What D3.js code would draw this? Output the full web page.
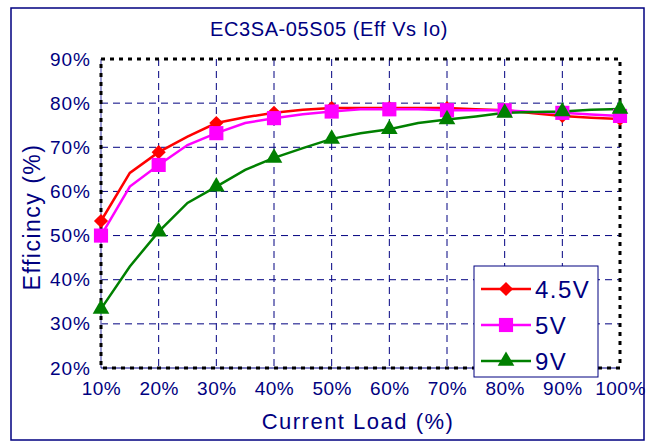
<!DOCTYPE html>
<html>
<head>
<meta charset="utf-8">
<script src="https://cdn.jsdelivr.net/npm/d3@7"></script>
<style>
  body { margin: 0; background: #fff; }
  text { font-family: "Liberation Sans", Arial, sans-serif; fill: #000080; }
</style>
</head>
<body>
<script>
// load points (%) with markers
var loads = [10, 20, 30, 40, 50, 60, 70, 80, 90, 100];
var eff45 = [53.3, 68.9, 75.5, 77.8, 78.9, 78.9, 78.9, 78.4, 77.1, 76.4];
var eff5  = [50.0, 66.0, 73.2, 76.6, 78.1, 78.6, 78.4, 78.4, 77.8, 77.1];
var eff9  = [33.4, 50.9, 61.1, 67.6, 71.9, 74.1, 76.3, 77.8, 78.1, 78.7];

// extra measurements between markers (line only)
var midLoads = [15, 25, 35, 45, 55, 65, 75, 85, 95];
var mid45 = [64.2, 72.4, 76.8, 78.5, 78.9, 78.9, 78.6, 77.7, 76.7];
var mid5  = [61.1, 70.5, 75.5, 77.5, 78.6, 78.6, 78.4, 78.0, 77.4];
var mid9  = [43.0, 57.4, 64.9, 69.8, 73.2, 75.5, 77.0, 78.0, 78.5];

var xTicks = [10, 20, 30, 40, 50, 60, 70, 80, 90, 100];
var yTicks = [20, 30, 40, 50, 60, 70, 80, 90];

var W = 654, H = 445;
var navy = "#000080";

var svg = d3.select("body").append("svg")
    .attr("width", W)
    .attr("height", H);

// outer frame
svg.append("rect")
    .attr("x", 11).attr("y", 8)
    .attr("width", 633).attr("height", 432)
    .style("fill", "white")
    .style("stroke", navy)
    .style("stroke-width", 1.5);

var x = d3.scaleLinear().domain([10, 100]).range([101, 620]);
var y = d3.scaleLinear().domain([20, 90]).range([368, 59]);

// grid
svg.append("g").selectAll("line").data(xTicks.slice(1, -1)).enter()
  .append("line")
    .attr("x1", d => x(d)).attr("x2", d => x(d))
    .attr("y1", y(90)).attr("y2", y(20))
    .style("stroke", navy).style("stroke-width", 1)
    .style("stroke-dasharray", "7,5");
svg.append("g").selectAll("line").data(yTicks.slice(1, -1)).enter()
  .append("line")
    .attr("x1", x(10)).attr("x2", x(100))
    .attr("y1", d => y(d)).attr("y2", d => y(d))
    .style("stroke", navy).style("stroke-width", 1)
    .style("stroke-dasharray", "7,5");

// thin axis lines
svg.append("line")
    .attr("x1", x(10)).attr("x2", x(10)).attr("y1", y(90)).attr("y2", y(20))
    .style("stroke", "#7878c0").style("stroke-width", 1.5);
svg.append("line")
    .attr("x1", x(10)).attr("x2", x(100)).attr("y1", y(20)).attr("y2", y(20))
    .style("stroke", navy).style("stroke-width", 1);

// dotted black plot frame
svg.append("rect")
    .attr("x", x(10)).attr("y", y(90))
    .attr("width", x(100) - x(10)).attr("height", y(20) - y(90))
    .style("fill", "none")
    .style("stroke", "black")
    .style("stroke-width", 3)
    .style("stroke-dasharray", "4,5");

// axes labels
var yAxis = d3.axisLeft(y).tickValues(yTicks).tickFormat(d => d + "%").tickSize(0).tickPadding(10);
svg.append("g").attr("transform", "translate(" + x(10) + ",0)").call(yAxis)
  .call(g => g.select(".domain").remove())
  .selectAll("text")
    .style("font-size", "19px")
    .style("letter-spacing", "1px")
    .style("fill", navy);

var xAxis = d3.axisBottom(x).tickValues(xTicks).tickFormat(d => d + "%").tickSize(0).tickPadding(14);
svg.append("g").attr("transform", "translate(0," + y(20) + ")").call(xAxis)
  .call(g => g.select(".domain").remove())
  .selectAll("text")
    .style("font-size", "19px")
    .style("letter-spacing", "0.5px")
    .style("fill", navy);

svg.append("text")
    .attr("x", 329).attr("y", 36)
    .attr("text-anchor", "middle")
    .style("font-size", "20px")
    .style("letter-spacing", "0.6px")
    .text("EC3SA-05S05  (Eff Vs Io)");

svg.append("text")
    .attr("x", 358).attr("y", 429)
    .attr("text-anchor", "middle")
    .style("font-size", "22px")
    .style("letter-spacing", "1.5px")
    .text("Current Load (%)");

svg.append("text")
    .attr("transform", "translate(40,217) rotate(-90)")
    .attr("text-anchor", "middle")
    .style("font-size", "23px")
    .style("letter-spacing", "1.5px")
    .text("Efficincy (%)");

// series
function merge(a, av, b, bv) {
  var pts = a.map((d, i) => [d, av[i]]).concat(b.map((d, i) => [d, bv[i]]));
  return pts.sort((p, q) => p[0] - q[0]);
}

// wide diamond (rotated square)
var wideDiamond = {
  draw: function(ctx, size) {
    var r = Math.sqrt(size / 2);
    ctx.moveTo(0, -r); ctx.lineTo(r, 0); ctx.lineTo(0, r); ctx.lineTo(-r, 0); ctx.closePath();
  }
};

var series = [
  { name: "4.5V", color: "#ff0000", vals: eff45, mid: mid45, sym: wideDiamond, size: 100 },
  { name: "5V", color: "#ff00ff", vals: eff5, mid: mid5, sym: d3.symbolSquare, size: 200 },
  { name: "9V", color: "#008000", vals: eff9, mid: mid9, sym: d3.symbolTriangle, size: 120 }
];

var line = d3.line().x(d => x(d[0])).y(d => y(d[1]));

series.forEach(function(s) {
  svg.append("path")
      .datum(merge(loads, s.vals, midLoads, s.mid))
      .attr("d", line)
      .style("fill", "none")
      .style("stroke", s.color)
      .style("stroke-width", 2.5);
});

series.forEach(function(s) {
  svg.append("g").selectAll("path").data(loads).enter()
    .append("path")
      .attr("d", d3.symbol().type(s.sym).size(s.size))
      .attr("transform", (d, i) => "translate(" + x(d) + "," + y(s.vals[i]) + ")")
      .style("fill", s.color);
});

// legend
var lg = svg.append("g").attr("transform", "translate(474,266)");
lg.append("rect")
    .attr("width", 124).attr("height", 111)
    .style("fill", "white")
    .style("stroke", navy)
    .style("stroke-width", 1);

series.forEach(function(s, i) {
  var row = lg.append("g").attr("transform", "translate(0," + (23 + i * 36) + ")");
  row.append("line")
      .attr("x1", 7).attr("x2", 57)
      .style("stroke", s.color).style("stroke-width", 2.5);
  row.append("path")
      .attr("d", d3.symbol().type(s.sym).size(s.size))
      .attr("transform", "translate(32,0)")
      .style("fill", s.color);
  row.append("text")
      .attr("x", 61).attr("y", 9)
      .style("font-size", "24px")
      .style("letter-spacing", "1.5px")
      .text(s.name);
});
</script>
</body>
</html>
